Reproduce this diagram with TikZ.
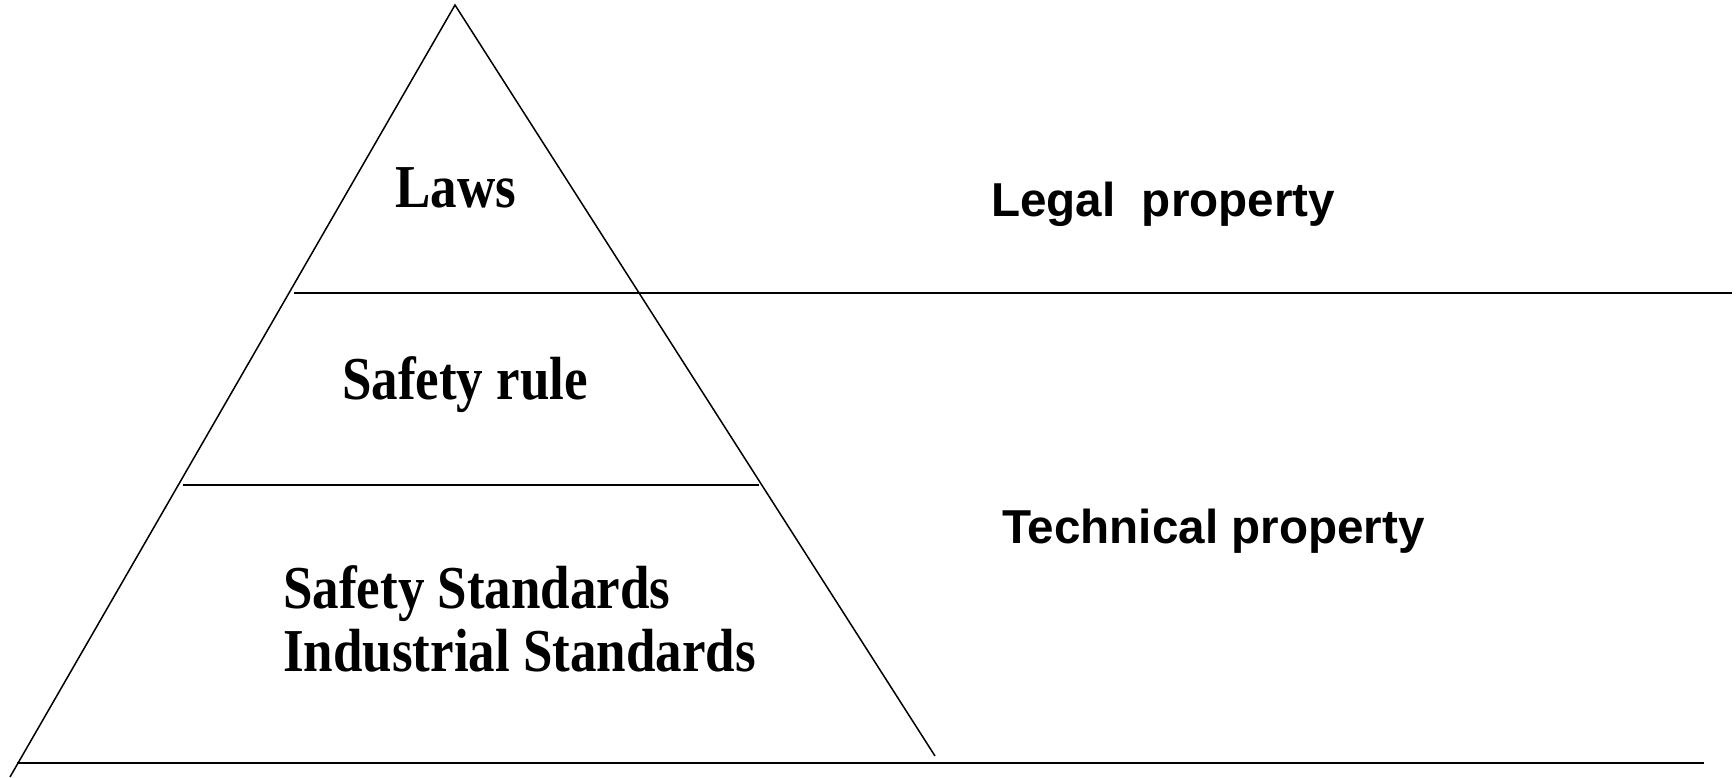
\documentclass[tikz,border=0pt]{standalone}
\usepackage{fontspec}
\setmainfont{Liberation Serif}
\newfontfamily\sidefont{Liberation Sans}
\usetikzlibrary{positioning}

\begin{document}
\begin{tikzpicture}[x=1pt,y=-1pt,
  tier/.style={font=\fontsize{53}{63}\selectfont\bfseries, inner sep=0pt},
  side/.style={font=\fontsize{47.6}{56}\sidefont\bfseries, inner sep=0pt, anchor=base west},
  edge/.style={line width=1.5pt},
  level/.style={line width=2pt}]
\useasboundingbox (0,0) rectangle (1736,777);
\coordinate (top) at (455,5);
\coordinate (baseL) at (10,777);
\coordinate (baseR) at (935,756);
\draw[edge] (baseL) -- (top) -- (baseR);

\draw[level] (294,293) -- (1732,293);
\draw[level] (183,485) -- (759,485);
\draw[level] (17,762.5) -- (1704,762.5);

\node[tier,anchor=base] (laws) at (456,207) {\scalebox{1}[1.15]{Laws}};
\node[tier,anchor=base] (rule) at (465,399) {\scalebox{1}[1.15]{Safety rule}};
\node[tier,anchor=base west] (safestd) at (283,608) {\scalebox{1}[1.15]{Safety Standards}};
\node[tier,anchor=base west] (indstd) at (283,671) {\scalebox{1}[1.15]{Industrial Standards}};

\node[side] (legal) at (991,216) {Legal\ \ property};
\node[side] (tech) at (1002,543) {Technical property};

\end{tikzpicture}
\end{document}
